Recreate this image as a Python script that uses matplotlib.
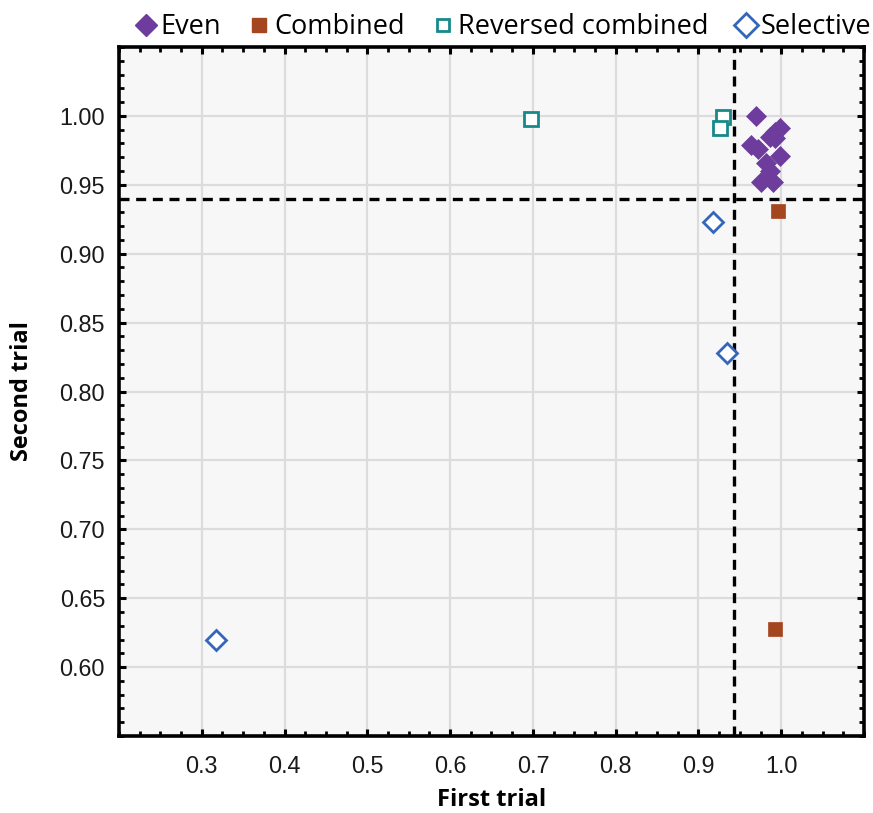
import matplotlib
matplotlib.use("Agg")
import matplotlib.pyplot as plt
from matplotlib.ticker import MultipleLocator, FixedLocator
from matplotlib.lines import Line2D

# ---- data ----
even_x = [0.969, 0.999, 0.993, 0.986, 0.963, 0.972, 0.998, 0.982, 0.986, 0.975, 0.990, 0.993]
even_y = [1.000, 0.991, 0.988, 0.985, 0.979, 0.976, 0.971, 0.966, 0.960, 0.952, 0.952, 0.984]

combined_x = [0.996, 0.993]
combined_y = [0.931, 0.628]

revcomb_x = [0.698, 0.930, 0.926]
revcomb_y = [0.998, 0.999, 0.991]

selective_x = [0.317, 0.918, 0.934]
selective_y = [0.620, 0.923, 0.828]

threshold_x = 0.943
threshold_y = 0.940

x_ticks = [0.3, 0.4, 0.5, 0.6, 0.7, 0.8, 0.9, 1.0]
y_ticks = [0.60, 0.65, 0.70, 0.75, 0.80, 0.85, 0.90, 0.95, 1.00]

series_names = ["Even", "Combined", "Reversed combined", "Selective"]

# ---- style ----
c_even = "#6E3C9C"
c_comb = "#A4461E"
c_rev = "#16898A"
c_sel = "#3467BA"

fig = plt.figure(figsize=(8.73, 8.13), dpi=100)
ax = fig.add_axes([0.1363, 0.0947, 0.9897 - 0.1363, 0.9422 - 0.0947])
ax.set_facecolor("#F7F7F7")

ax.set_xlim(0.2, 1.1)
ax.set_ylim(0.55, 1.05)

ax.xaxis.set_major_locator(FixedLocator(x_ticks))
ax.yaxis.set_major_locator(FixedLocator(y_ticks))
ax.xaxis.set_minor_locator(MultipleLocator(0.025))
ax.yaxis.set_minor_locator(MultipleLocator(0.01))
ax.set_xticklabels([f"{v:.1f}" for v in x_ticks])
ax.set_yticklabels([f"{v:.2f}" for v in y_ticks])

ax.grid(True, which="major", color="#DCDCDC", linewidth=1.6, zorder=0)
ax.set_axisbelow(True)

for s in ax.spines.values():
    s.set_linewidth(2.6)
    s.set_color("black")

ax.tick_params(which="both", direction="in", top=True, right=True, color="black")
ax.tick_params(which="major", length=5, width=2.2, labelsize=16.8)
ax.tick_params(axis="x", which="major", pad=14)
ax.tick_params(axis="y", which="major", pad=10)
ax.tick_params(which="minor", length=3.5, width=2.0)
for lab in ax.get_xticklabels() + ax.get_yticklabels():
    lab.set_fontfamily("Liberation Sans")
    lab.set_color("#1A1A1A")

ax.axvline(threshold_x, color="black", linestyle=(0, (3, 2)), linewidth=2.4, zorder=2)
ax.axhline(threshold_y, color="black", linestyle=(0, (3, 2)), linewidth=2.4, zorder=2)

ms = 10
ax.plot(even_x, even_y, linestyle="none", marker="D", markersize=ms,
        markerfacecolor=c_even, markeredgecolor=c_even, markeredgewidth=0.5, zorder=3)
ax.plot(combined_x, combined_y, linestyle="none", marker="s", markersize=ms,
        markerfacecolor=c_comb, markeredgecolor=c_comb, markeredgewidth=0.5, zorder=3)
ax.plot(revcomb_x, revcomb_y, linestyle="none", marker="s", markersize=ms,
        markerfacecolor="white", markeredgecolor=c_rev, markeredgewidth=2.0, zorder=3)
ax.plot(selective_x, selective_y, linestyle="none", marker="D", markersize=ms,
        markerfacecolor="white", markeredgecolor=c_sel, markeredgewidth=2.0, zorder=3)

ax.set_xlabel("First trial", fontfamily="Open Sans", fontweight="bold", fontsize=17, labelpad=7)
ax.set_ylabel("Second trial", fontfamily="Open Sans", fontweight="bold", fontsize=17, labelpad=18)

handles = [
    Line2D([], [], linestyle="none", marker="D", markersize=11, markerfacecolor=c_even, markeredgecolor=c_even),
    Line2D([], [], linestyle="none", marker="s", markersize=10, markerfacecolor=c_comb, markeredgecolor=c_comb),
    Line2D([], [], linestyle="none", marker="s", markersize=9, markerfacecolor="white", markeredgecolor=c_rev, markeredgewidth=2),
    Line2D([], [], linestyle="none", marker="D", markersize=12, markerfacecolor="white", markeredgecolor=c_sel, markeredgewidth=2),
]
leg = fig.legend(handles, series_names, loc="upper right", bbox_to_anchor=(1.017, 1.004), ncol=4,
                 frameon=False, handlelength=0.8, handletextpad=0.15, columnspacing=1.0,
                 prop={"family": "Open Sans", "size": 19.5}, borderaxespad=0.2)

fig.savefig("out.png", dpi=100, facecolor="white")
